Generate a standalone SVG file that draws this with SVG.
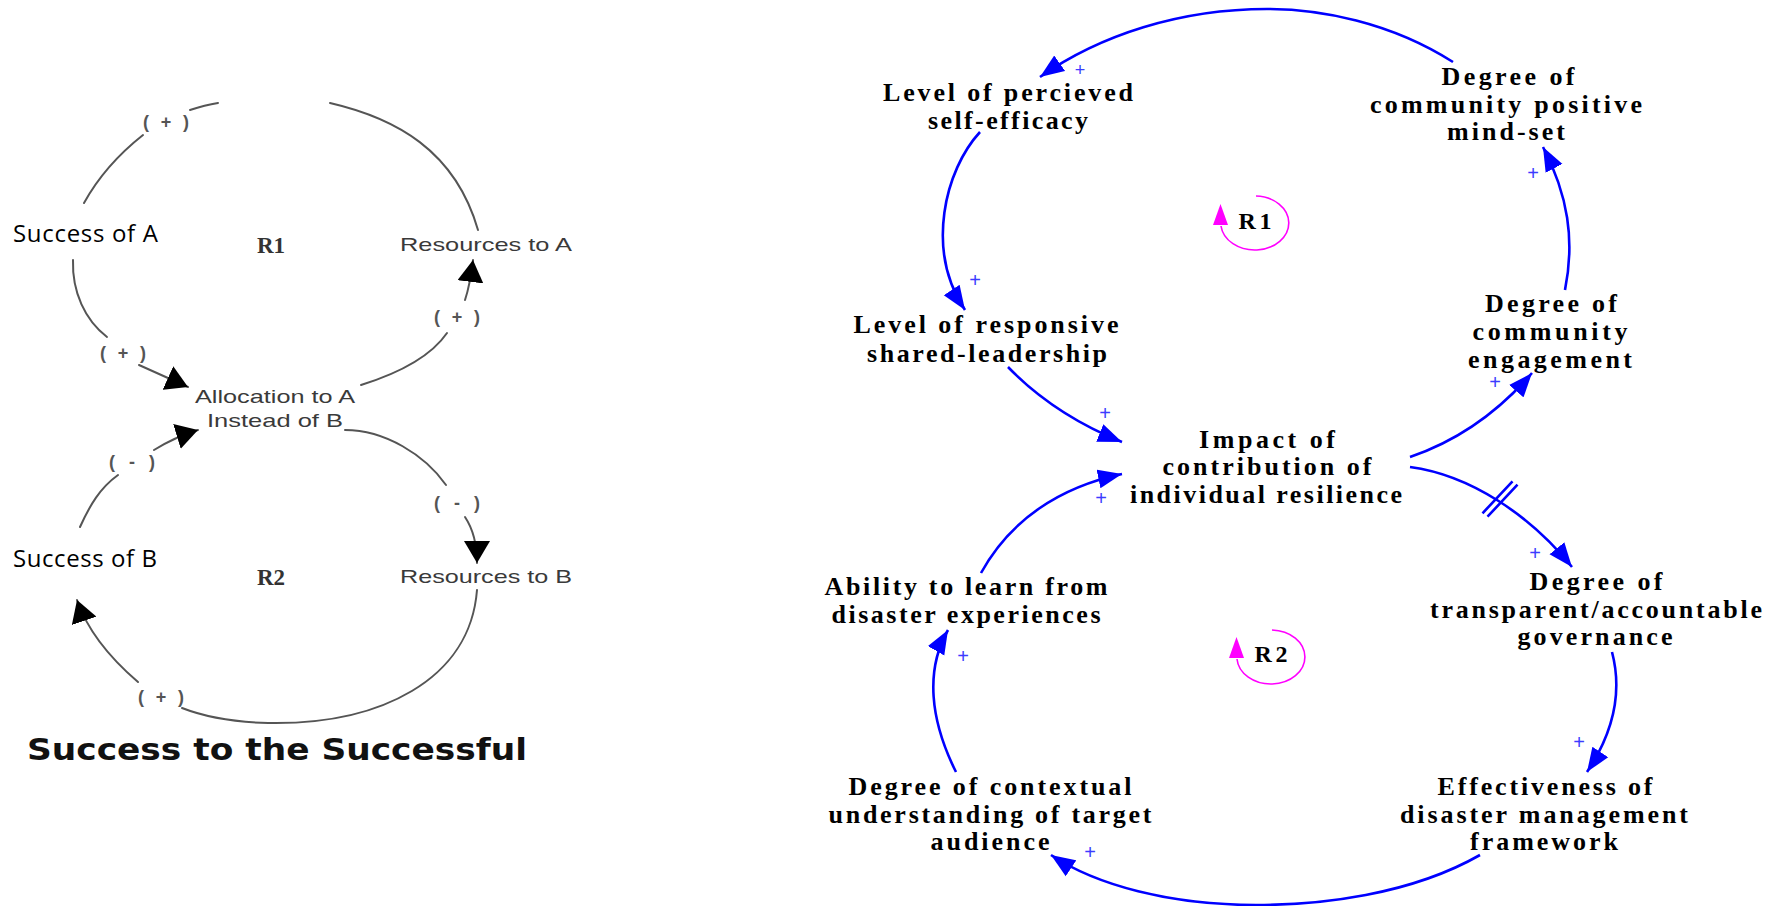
<svg xmlns="http://www.w3.org/2000/svg" width="1767" height="906" viewBox="0 0 1767 906">
<style>
.bg{fill:#ffffff}
.gl{fill:none;stroke:#555;stroke-width:2;stroke-linecap:round}
.bl{fill:none;stroke:#0000ff;stroke-width:2.6}
.cal{font-family:"Open Sans","Noto Sans","Liberation Sans",sans-serif;font-size:24px;fill:#000}
.ar{font-family:"Liberation Sans",Arial,sans-serif;font-size:19px;fill:#3a3a3a}
.pm{font-family:"Liberation Sans",Arial,sans-serif;font-size:18px;font-weight:bold;fill:#555;text-anchor:middle}
.rl{font-family:"Liberation Serif","Times New Roman",serif;font-size:23px;font-weight:bold;fill:#333;text-anchor:middle}
.tt{font-family:"DejaVu Sans",Verdana,sans-serif;font-size:31px;font-weight:bold;fill:#111}
.nd{font-family:"Liberation Serif","Times New Roman",serif;font-size:26px;font-weight:bold;fill:#000;text-anchor:middle}
.pl{font-family:"Liberation Sans",Arial,sans-serif;font-size:20px;fill:#3c3cff;text-anchor:middle}
.lp{fill:none;stroke:#ff00ff;stroke-width:1.6}
.lph{fill:#ff00ff}
.lr{font-family:"Liberation Serif","Times New Roman",serif;font-size:24px;font-weight:bold;fill:#000;text-anchor:middle}
</style>
<defs>
<marker id="ab" markerUnits="userSpaceOnUse" markerWidth="24" markerHeight="20" viewBox="0 0 24 20" refX="24" refY="10" orient="auto"><path d="M0,0.5 L24,10 L0,19.5 z" fill="#0000ff"/></marker>
<marker id="ak" markerUnits="userSpaceOnUse" markerWidth="22" markerHeight="26" viewBox="0 0 22 26" refX="22" refY="13" orient="auto"><path d="M0,0 L22,13 L0,26 z" fill="#000"/></marker>
</defs>
<rect class="bg" x="0" y="0" width="1767" height="906"/>

<g id="connectors">
<!-- left diagram -->
<path class="gl" d="M84,203 Q105,165 143,135"/>
<path class="gl" d="M190,110 Q205,105 218,103"/>
<path class="gl" d="M330,103 C395,118 455,150 478,230"/>
<path class="gl" d="M73,260 C72,292 85,320 107,337"/>
<path class="gl" d="M139,365 L188,387" marker-end="url(#ak)"/>
<path class="gl" d="M361,385 Q425,365 447,333"/>
<path class="gl" d="M465,300 Q470,285 473,260" marker-end="url(#ak)"/>
<path class="gl" d="M345,430 C385,430 425,455 446,485"/>
<path class="gl" d="M465,517 Q477,535 477,563" marker-end="url(#ak)"/>
<path class="gl" d="M477,590 C470,680 380,725 268,723 C230,722 200,715 182,708"/>
<path class="gl" d="M138,682 C110,658 88,632 77,600" marker-end="url(#ak)"/>
<path class="gl" d="M80,527 C90,505 100,488 118,475"/>
<path class="gl" d="M154,450 Q175,437 198,430" marker-end="url(#ak)"/>
<!-- right diagram -->
<path class="bl" d="M1453,62 C1390,22 1320,9 1267,9 C1180,9 1100,35 1040,77" marker-end="url(#ab)"/>
<path class="bl" d="M980,132 C945,170 925,250 965,310" marker-end="url(#ab)"/>
<path class="bl" d="M1008,367 C1040,400 1080,425 1122,442" marker-end="url(#ab)"/>
<path class="bl" d="M981,573 C1010,520 1060,487 1122,474" marker-end="url(#ab)"/>
<path class="bl" d="M956,772 C930,720 925,670 948,630" marker-end="url(#ab)"/>
<path class="bl" d="M1410,457 C1460,440 1500,410 1532,373" marker-end="url(#ab)"/>
<path class="bl" d="M1410,467 C1470,475 1530,515 1572,567" marker-end="url(#ab)"/>
<path class="bl" d="M1482.5,513.3 L1512.5,481.3 M1487.5,516.7 L1517.5,484.7"/>
<path class="bl" d="M1612,652 C1622,690 1615,730 1587,772" marker-end="url(#ab)"/>
<path class="bl" d="M1480,855 C1410,895 1320,905 1256,905 C1170,905 1096,885 1051,855" marker-end="url(#ab)"/>
<path class="bl" d="M1565,290 C1575,240 1568,195 1543,147" marker-end="url(#ab)"/>
</g>

<g id="left-polarities">
<text class="pm" x="166" y="128" textLength="46">( + )</text>
<text class="pm" x="123" y="359" textLength="46">( + )</text>
<text class="pm" x="457" y="323" textLength="46">( + )</text>
<text class="pm" x="132" y="468" textLength="46">( - )</text>
<text class="pm" x="457" y="509" textLength="46">( - )</text>
<text class="pm" x="161" y="703" textLength="46">( + )</text>
</g>
<g id="node-success-a"><text class="cal" x="13" y="242" textLength="145">Success of A</text></g>
<g id="node-success-b"><text class="cal" x="13" y="567" textLength="144">Success of B</text></g>
<g id="node-resources-a"><text class="ar" x="400" y="251" textLength="172" lengthAdjust="spacingAndGlyphs">Resources to A</text></g>
<g id="node-resources-b"><text class="ar" x="400" y="583" textLength="172" lengthAdjust="spacingAndGlyphs">Resources to B</text></g>
<g id="node-allocation"><text class="ar" x="195" y="403" textLength="160" lengthAdjust="spacingAndGlyphs">Allocation to A</text><text class="ar" x="207" y="427" textLength="136" lengthAdjust="spacingAndGlyphs">Instead of B</text></g>
<g id="label-r1-left"><text class="rl" x="271" y="253">R1</text></g>
<g id="label-r2-left"><text class="rl" x="271" y="585">R2</text></g>
<g id="title"><text class="tt" x="27" y="760" textLength="500" lengthAdjust="spacingAndGlyphs">Success to the Successful</text></g>

<g id="node-self-efficacy"><text class="nd" x="1008" y="101" textLength="250">Level of percieved</text><text class="nd" x="1008" y="129" textLength="160">self-efficacy</text></g>
<g id="node-shared-leadership"><text class="nd" x="986" y="333" textLength="265">Level of responsive</text><text class="nd" x="987" y="362" textLength="240">shared-leadership</text></g>
<g id="node-impact"><text class="nd" x="1267" y="448" textLength="136">Impact of</text><text class="nd" x="1267" y="475" textLength="209">contribution of</text><text class="nd" x="1266" y="503" textLength="272">individual resilience</text></g>
<g id="node-ability"><text class="nd" x="966" y="595" textLength="283">Ability to learn from</text><text class="nd" x="966" y="623" textLength="269">disaster experiences</text></g>
<g id="node-contextual"><text class="nd" x="990" y="795" textLength="283">Degree of contextual</text><text class="nd" x="990" y="823" textLength="323">understanding of target</text><text class="nd" x="990" y="850" textLength="119">audience</text></g>
<g id="node-mindset"><text class="nd" x="1508" y="85" textLength="133">Degree of</text><text class="nd" x="1506" y="113" textLength="272">community positive</text><text class="nd" x="1506" y="140" textLength="118">mind-set</text></g>
<g id="node-engagement"><text class="nd" x="1551" y="312" textLength="132">Degree of</text><text class="nd" x="1550" y="340" textLength="155">community</text><text class="nd" x="1550" y="368" textLength="164">engagement</text></g>
<g id="node-governance"><text class="nd" x="1596" y="590" textLength="133">Degree of</text><text class="nd" x="1596" y="618" textLength="332">transparent/accountable</text><text class="nd" x="1595" y="645" textLength="155">governance</text></g>
<g id="node-framework"><text class="nd" x="1545" y="795" textLength="215">Effectiveness of</text><text class="nd" x="1544" y="823" textLength="288">disaster management</text><text class="nd" x="1544" y="850" textLength="148">framework</text></g>

<g id="right-polarities">
<text class="pl" x="1080" y="76" style="font-size:18px">+</text>
<text class="pl" x="975" y="287">+</text>
<text class="pl" x="1105" y="420">+</text>
<text class="pl" x="1101" y="505">+</text>
<text class="pl" x="963" y="663">+</text>
<text class="pl" x="1090" y="859">+</text>
<text class="pl" x="1533" y="180">+</text>
<text class="pl" x="1495" y="389">+</text>
<text class="pl" x="1535" y="560">+</text>
<text class="pl" x="1579" y="749">+</text>
</g>

<g id="loop-r1">
<path class="lp" d="M1256,196 A34,27 0 1,1 1221,226"/>
<polygon class="lph" points="1213,225 1228,225 1220.5,204"/>
<text class="lr" x="1255" y="229" textLength="33">R1</text>
</g>
<g id="loop-r2">
<path class="lp" d="M1272,630 A34,27 0 1,1 1237,659"/>
<polygon class="lph" points="1229,658 1244,658 1236.5,637"/>
<text class="lr" x="1271" y="662" textLength="33">R2</text>
</g>
</svg>
